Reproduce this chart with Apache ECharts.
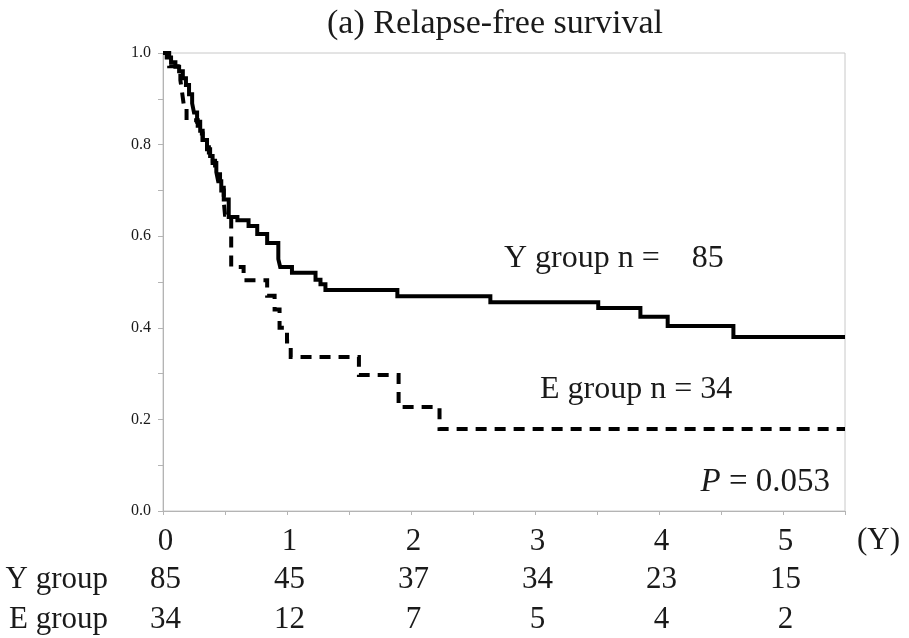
<!DOCTYPE html>
<html>
<head>
<meta charset="utf-8">
<script src="https://cdn.jsdelivr.net/npm/echarts@6/dist/echarts.min.js"></script>
<style>
  html, body { margin: 0; padding: 0; background: #fff; }
  #chart { width: 909px; height: 638px; }
</style>
</head>
<body>
<div id="chart"></div>
<script>
// Kaplan–Meier relapse-free survival, two groups

const years = [0, 1, 2, 3, 4, 5];
const yTickLabels = ['0.0', '0.2', '0.4', '0.6', '0.8', '1.0'];

// Y group: event times (years) and survival after each step
const yGroupTime = [0, 0.03, 0.065, 0.10, 0.13, 0.16, 0.185, 0.21, 0.235, 0.25, 0.275, 0.30, 0.32,
  0.355, 0.38, 0.40, 0.43, 0.445, 0.47, 0.49, 0.53, 0.60, 0.69, 0.76, 0.84, 0.93, 0.945,
  1.04, 1.23, 1.27, 1.31, 1.89, 2.64, 3.51, 3.85, 4.07, 4.60, 5.5];
const yGroupSurv = [1.0, 0.99, 0.98, 0.97, 0.96, 0.945, 0.93, 0.91, 0.89, 0.87, 0.85, 0.83, 0.81,
  0.79, 0.775, 0.76, 0.74, 0.72, 0.70, 0.68, 0.642, 0.635, 0.622, 0.605, 0.585, 0.55, 0.533,
  0.52, 0.505, 0.495, 0.4825, 0.469, 0.456, 0.443, 0.424, 0.404, 0.380, 0.380];

// E group: event times (years) and survival after each step
const eGroupTime = [0, 0.05, 0.14, 0.155, 0.17, 0.19, 0.28, 0.32, 0.37, 0.42, 0.46, 0.49, 0.50,
  0.55, 0.65, 0.84, 0.90, 0.94, 1.00, 1.03, 1.58, 1.90, 2.23, 5.5];
const eGroupSurv = [1.0, 0.971, 0.941, 0.912, 0.882, 0.853, 0.824, 0.794, 0.765, 0.735, 0.706, 0.676, 0.647,
  0.533, 0.504, 0.47, 0.44, 0.40, 0.37, 0.336, 0.297, 0.227, 0.179, 0.179];

// Number at risk at each whole year
const atRiskY = [85, 45, 37, 34, 23, 15];
const atRiskE = [34, 12, 7, 5, 4, 2];

const groupLabels = ['Y group', 'E group'];
const nLabelY = 'Y group n =    85';
const nLabelE = 'E group n = 34';
const pValue = '0.053';
const timeUnit = '(Y)';

const FONT = '"Liberation Serif", "Times New Roman", serif';
const INK = '#1a1a1a';
const AXIS_GRAY = '#b4b4b4';

const pairs = (t, s) => t.map((v, i) => [v, s[i]]);
const yearLabel = (v, arr) => {
  const i = years.indexOf(v);
  return i >= 0 ? String(arr[i]) : '';
};

const baseX = {
  type: 'value', position: 'bottom', min: 0, max: 5.5, interval: 0.5,
  splitLine: { show: false }
};
const rowLabel = {
  verticalAlign: 'middle', padding: [0, 0, 0, 5],
  fontFamily: FONT, fontSize: 31, color: INK
};

const chart = echarts.init(document.getElementById('chart'), null, { renderer: 'canvas' });

chart.setOption({
  animation: false,
  backgroundColor: '#fff',
  title: {
    text: '(a) Relapse-free survival',
    left: 322, top: 2,
    textStyle: { fontFamily: FONT, fontSize: 34, fontWeight: 'normal', color: INK }
  },
  grid: {
    left: 163, right: 64, top: 53, bottom: 127,
    containLabel: false, outerBoundsMode: 'none',
    show: true, borderColor: '#c8c8c8', borderWidth: 1
  },
  xAxis: [
    Object.assign({}, baseX, {
      axisLine: { show: true, lineStyle: { color: AXIS_GRAY, width: 1 } },
      axisTick: { show: true, length: 4, lineStyle: { color: AXIS_GRAY } },
      axisLabel: Object.assign({ margin: 31, formatter: v => yearLabel(v, years) }, rowLabel)
    }),
    Object.assign({}, baseX, {
      offset: 69,
      name: groupLabels[0], nameLocation: 'start', nameGap: 55,
      nameTextStyle: { fontFamily: FONT, fontSize: 31, color: INK },
      axisLine: { show: false }, axisTick: { show: false },
      axisLabel: Object.assign({ margin: 0, formatter: v => yearLabel(v, atRiskY) }, rowLabel)
    }),
    Object.assign({}, baseX, {
      offset: 109,
      name: groupLabels[1], nameLocation: 'start', nameGap: 55,
      nameTextStyle: { fontFamily: FONT, fontSize: 31, color: INK },
      axisLine: { show: false }, axisTick: { show: false },
      axisLabel: Object.assign({ margin: 0, formatter: v => yearLabel(v, atRiskE) }, rowLabel)
    })
  ],
  yAxis: {
    type: 'value', min: 0, max: 1, interval: 0.1,
    splitLine: { show: false },
    axisLine: { show: true, lineStyle: { color: AXIS_GRAY, width: 1 } },
    axisTick: { show: true, length: 5, lineStyle: { color: AXIS_GRAY } },
    axisLabel: {
      margin: 12, fontFamily: FONT, fontSize: 16, color: INK,
      formatter: v => {
        const k = Math.round(v * 10);
        return k % 2 === 0 ? yTickLabels[k / 2] : '';
      }
    }
  },
  series: [
    {
      name: groupLabels[0], type: 'line', step: 'end', showSymbol: false, symbol: 'none',
      xAxisIndex: 0,
      data: pairs(yGroupTime, yGroupSurv),
      lineStyle: { color: '#000', width: 4, cap: 'butt', join: 'miter' }
    },
    {
      name: groupLabels[1], type: 'line', step: 'end', showSymbol: false, symbol: 'none',
      xAxisIndex: 0,
      data: pairs(eGroupTime, eGroupSurv),
      lineStyle: { color: '#000', width: 4, type: [11, 8], cap: 'butt', join: 'miter' }
    }
  ],
  graphic: [
    {
      type: 'text', left: 857, top: 525,
      style: { text: timeUnit, font: '31px ' + FONT, fill: INK }
    },
    {
      type: 'text', left: 504, top: 243,
      style: { text: nLabelY, font: '32px ' + FONT, fill: INK }
    },
    {
      type: 'text', left: 540, top: 374,
      style: { text: nLabelE, font: '32px ' + FONT, fill: INK }
    },
    {
      type: 'text', right: 79, top: 466,
      style: {
        text: '{i|P} = ' + pValue,
        font: '33px ' + FONT, fill: INK,
        rich: { i: { fontStyle: 'italic', fontFamily: FONT, fontSize: 33, fill: INK } }
      }
    }
  ]
});
</script>
</body>
</html>
